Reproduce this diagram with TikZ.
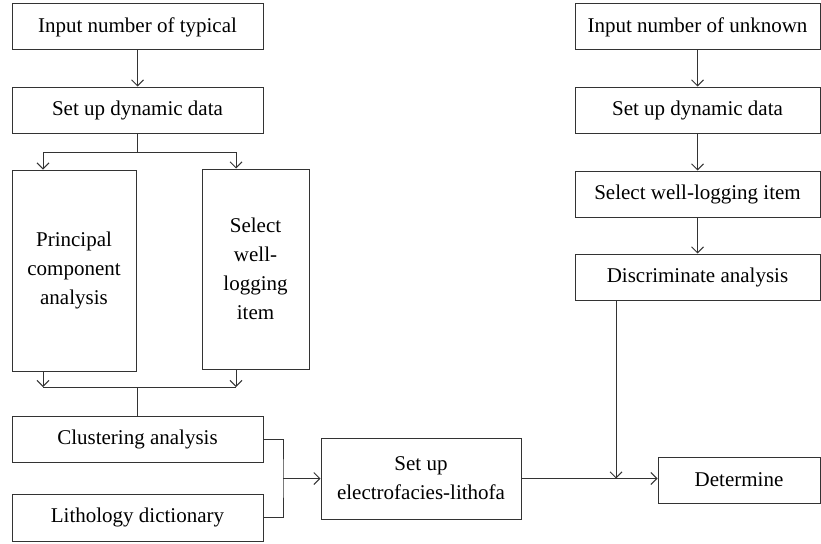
\documentclass[tikz,border=0pt]{standalone}
\usepackage{fontspec}
\setmainfont{Liberation Serif}
\usetikzlibrary{arrows.meta,positioning,calc}

\begin{document}
\begin{tikzpicture}[x=1pt,y=-1pt,
    >={Straight Barb[length=6pt,width=12pt]},
    stepbox/.style={
    % The shape:
    rectangle,
    inner sep=0pt,
    minimum height=46pt,
    % The rest
    line width=1pt,draw=black!80,
    font=\fontsize{21}{29}\selectfont,
    align=center},
    wide/.style={stepbox,minimum width=251pt},
    link/.style={line width=1pt,draw=black!80}]
    \useasboundingbox (0,0) rectangle (821,543);
    % left column
    \node (typical) [wide] at (137.5,27) {Input number of typical};
    \node (dyndata) [wide] at (137.5,110) {Set up dynamic data};
    \node (pca) [stepbox,minimum width=124pt,minimum height=201pt] at (74,270.5)
        {Principal\\component\\analysis};
    \node (selitem) [stepbox,minimum width=107pt,minimum height=200pt] at (255.5,269)
        {Select\\well-\\logging\\item};
    \node (cluster) [wide] at (137.5,439) {Clustering analysis};
    \node (litho) [wide,minimum height=47pt] at (137.5,517.5) {Lithology dictionary};
    \node (electro) [stepbox,minimum width=200pt,minimum height=81pt] at (421,478.5)
        {Set up\\electrofacies-lithofa};
    % right column
    \node (unknown) [stepbox,minimum width=245pt] at (697.5,27) {Input number of unknown};
    \node (dyndata2) [stepbox,minimum width=245pt] at (697.5,110) {Set up dynamic data};
    \node (selitem2) [stepbox,minimum width=245pt] at (697.5,194) {Select well-logging item};
    \node (discrim) [stepbox,minimum width=245pt] at (697.5,277) {Discriminate analysis};
    \node (determine) [stepbox,minimum width=162pt] at (739,480) {Determine};
    % branch points
    \coordinate (splitL) at (43,152);
    \coordinate (splitR) at (236,152);
    \coordinate (mergeL) at (43,387);
    \coordinate (mergeR) at (236,387);
    \coordinate (join) at (283,478.5);
    \coordinate (meet) at (616,478.5);
    % connectors
    \draw[link,->] (typical) -- (dyndata);
    \draw[link] (dyndata.south) -- (dyndata.south |- splitL);
    \draw[link] (splitL) -- (splitR);
    \draw[link,->] (splitL) -- (splitL |- pca.north);
    \draw[link,->] (splitR) -- (splitR |- selitem.north);
    \draw[link,->] (pca.south -| mergeL) -- (mergeL);
    \draw[link,->] (selitem.south -| mergeR) -- (mergeR);
    \draw[link] (mergeL) -- (mergeR);
    \draw[link] (cluster.north |- mergeL) -- (cluster.north);
    \draw[link] (cluster.east) -| (join) |- (litho.east);
    \draw[link,->] (join) -- (electro.west);
    \draw[link,->] (unknown) -- (dyndata2);
    \draw[link,->] (dyndata2) -- (selitem2);
    \draw[link,->] (selitem2) -- (discrim);
    \draw[link,->] (discrim.south -| meet) -- (meet);
    \draw[link,->] (electro.east) -- (electro.east -| determine.west);
\end{tikzpicture}
\end{document}
